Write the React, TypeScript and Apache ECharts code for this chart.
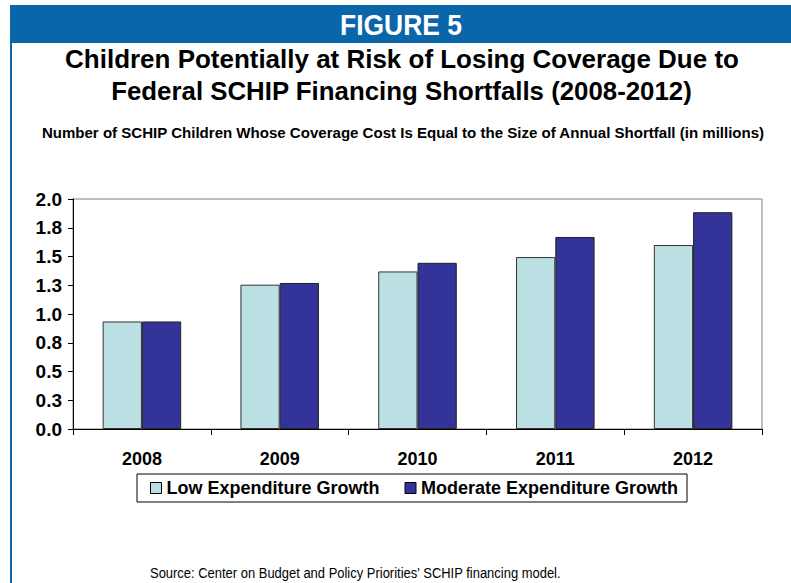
import React, { useEffect, useRef } from "react";
import * as echarts from "echarts";

const years = ["2008", "2009", "2010", "2011", "2012"];
const lowGrowth = [0.935, 1.255, 1.37, 1.495, 1.6];
const moderateGrowth = [0.935, 1.27, 1.445, 1.67, 1.885];
const yTickLabels = ["0.0", "0.3", "0.5", "0.8", "1.0", "1.3", "1.5", "1.8", "2.0"];
const seriesNames = ["Low Expenditure Growth", "Moderate Expenditure Growth"];

const figureLabel = "FIGURE 5";
const titleLine1 = "Children Potentially at Risk of Losing Coverage Due to";
const titleLine2 = "Federal SCHIP Financing Shortfalls (2008-2012)";
const subtitle =
  "Number of SCHIP Children Whose Coverage Cost Is Equal to the Size of Annual Shortfall (in millions)";
const source = "Source: Center on Budget and Policy Priorities' SCHIP financing model.";

const FONT = "'Liberation Sans', Arial, Helvetica, sans-serif";
const BLUE = "#0B65A9";

function measure(text: string, font: string): number {
  const c = document.createElement("canvas");
  const ctx = c.getContext("2d");
  if (!ctx) return 1;
  ctx.font = font;
  return ctx.measureText(text).width;
}

function fitText(
  text: string,
  cx: number,
  cy: number,
  size: number,
  weight: string,
  targetW: number,
  fill: string,
  align: "center" | "left" = "center"
) {
  const font = `${weight} ${size}px ${FONT}`;
  const w = measure(text, font);
  const s = w > 0 ? targetW / w : 1;
  return {
    type: "text",
    x: cx,
    y: cy,
    scaleX: s,
    scaleY: 1,
    style: {
      text,
      x: 0,
      y: 0,
      font,
      fill,
      textAlign: align,
      textVerticalAlign: "middle",
    },
    silent: true,
  };
}

export default function App() {
  const ref = useRef<HTMLDivElement>(null);

  useEffect(() => {
    if (!ref.current) return;
    const chart = echarts.init(ref.current, null, { renderer: "svg" });
    const option: any = {
      animation: false,
      backgroundColor: "#ffffff",
      textStyle: { fontFamily: FONT },
      grid: {
        left: 73,
        right: 29,
        top: 199,
        bottom: 154,
        show: true,
        borderColor: "#808080",
        borderWidth: 1,
        backgroundColor: "transparent",
      },
      legend: {
        data: seriesNames,
        left: 137,
        top: 474,
        orient: "horizontal",
        itemWidth: 11,
        itemHeight: 11,
        itemGap: 25,
        padding: [5, 9, 5, 13],
        borderColor: "#000",
        borderWidth: 1,
        icon: "rect",
        itemStyle: { borderColor: "#000", borderWidth: 1 },
        textStyle: {
          fontFamily: FONT,
          fontWeight: "bold",
          fontSize: 18,
          color: "#000",
        },
      },
      xAxis: {
        type: "category",
        data: years,
        axisLine: { show: true, lineStyle: { color: "#000", width: 1 } },
        axisTick: { show: true, alignWithLabel: false, length: 6, lineStyle: { color: "#000" } },
        axisLabel: {
          fontFamily: FONT,
          fontWeight: "bold",
          fontSize: 18,
          color: "#000",
          margin: 21,
        },
        splitLine: { show: false },
      },
      yAxis: {
        type: "value",
        min: 0,
        max: 2,
        interval: 0.25,
        axisLine: { show: true, lineStyle: { color: "#000", width: 1 } },
        axisTick: { show: true, length: 5, lineStyle: { color: "#000" } },
        axisLabel: {
          fontFamily: FONT,
          fontWeight: "bold",
          fontSize: 19,
          color: "#000",
          margin: 11,
          formatter: (_v: number, i: number) => yTickLabels[i],
        },
        splitLine: { show: false },
      },
      series: [
        {
          name: seriesNames[0],
          type: "bar",
          data: lowGrowth,
          barGap: "0%",
          barCategoryGap: "43%",
          itemStyle: { color: "#BAE0E3", borderColor: "#333", borderWidth: 1 },
        },
        {
          name: seriesNames[1],
          type: "bar",
          data: moderateGrowth,
          barGap: "0%",
          barCategoryGap: "43%",
          itemStyle: { color: "#333399", borderColor: "#222", borderWidth: 1 },
        },
      ],
      graphic: [
        {
          type: "rect",
          shape: { x: 10, y: 5, width: 781, height: 38 },
          style: { fill: BLUE },
          silent: true,
        },
        {
          type: "rect",
          shape: { x: 10, y: 5, width: 2, height: 578 },
          style: { fill: BLUE },
          silent: true,
        },
        fitText(figureLabel, 401, 24, 30, "bold", 122, "#ffffff"),
        fitText(titleLine1, 402, 59, 25, "bold", 674, "#000"),
        fitText(titleLine2, 401.5, 91.5, 25, "bold", 581, "#000"),
        fitText(subtitle, 403, 133, 15, "bold", 724, "#000"),
        fitText(source, 150, 573.5, 14, "normal", 411, "#000", "left"),
      ],
    };
    chart.setOption(option);
    return () => chart.dispose();
  }, []);

  return (
    <div
      ref={ref}
      style={{ position: "fixed", left: 0, top: 0, width: 791, height: 583, background: "#fff" }}
    />
  );
}
